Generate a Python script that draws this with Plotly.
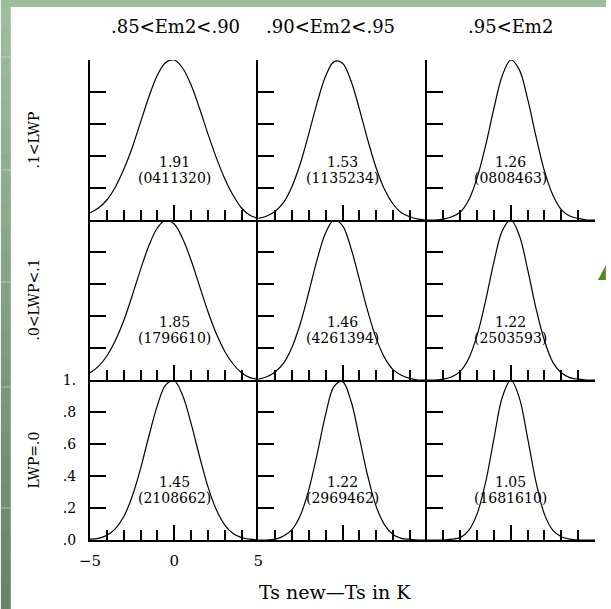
import plotly.graph_objects as go
from plotly.subplots import make_subplots

# Surface emissivity bins (columns) and liquid water path bins (rows, top to bottom)
em2_bins = [".85<Em2<.90", ".90<Em2<.95", ".95<Em2"]
lwp_bins = [".1<LWP", ".0<LWP<.1", "LWP=.0"]

# Sample points of Ts new - Ts (K)
ts_diff = [-5.0, -4.5, -4.0, -3.5, -3.0, -2.5, -2.0, -1.5, -1.0, -0.5, 0.0,
           0.5, 1.0, 1.5, 2.0, 2.5, 3.0, 3.5, 4.0, 4.5, 5.0]

# Normalised frequency per panel, one list per emissivity bin
freq_lwp_high = [
    [0.045, 0.075, 0.125, 0.205, 0.315, 0.45, 0.61, 0.77, 0.905, 0.985, 1.0,
     0.95, 0.845, 0.70, 0.54, 0.39, 0.26, 0.155, 0.075, 0.03, 0.01],
    [0.01, 0.025, 0.055, 0.11, 0.21, 0.355, 0.54, 0.735, 0.90, 0.99, 0.98,
     0.87, 0.695, 0.50, 0.325, 0.19, 0.10, 0.045, 0.02, 0.005, 0.0],
    [0.0, 0.0, 0.005, 0.02, 0.05, 0.125, 0.265, 0.465, 0.70, 0.905, 1.0,
     0.94, 0.755, 0.52, 0.305, 0.155, 0.065, 0.025, 0.01, 0.0, 0.0],
]
freq_lwp_low = [
    [0.045, 0.085, 0.15, 0.245, 0.37, 0.525, 0.69, 0.84, 0.95, 1.0, 0.975,
     0.885, 0.75, 0.59, 0.43, 0.29, 0.18, 0.10, 0.045, 0.015, 0.005],
    [0.005, 0.02, 0.05, 0.105, 0.205, 0.355, 0.55, 0.755, 0.92, 1.0, 0.965,
     0.825, 0.63, 0.43, 0.26, 0.14, 0.065, 0.03, 0.01, 0.0, 0.0],
    [0.0, 0.0, 0.005, 0.02, 0.055, 0.135, 0.28, 0.495, 0.74, 0.935, 1.0,
     0.905, 0.69, 0.445, 0.245, 0.11, 0.045, 0.015, 0.005, 0.0, 0.0],
]
freq_lwp_zero = [
    [0.005, 0.01, 0.03, 0.07, 0.145, 0.27, 0.445, 0.65, 0.84, 0.97, 0.995,
     0.905, 0.73, 0.525, 0.335, 0.19, 0.095, 0.04, 0.015, 0.005, 0.0],
    [0.0, 0.0, 0.005, 0.025, 0.065, 0.155, 0.315, 0.54, 0.785, 0.96, 0.99,
     0.87, 0.64, 0.40, 0.21, 0.095, 0.035, 0.01, 0.005, 0.0, 0.0],
    [0.0, 0.0, 0.0, 0.005, 0.015, 0.06, 0.165, 0.36, 0.635, 0.895, 1.0,
     0.89, 0.635, 0.36, 0.16, 0.06, 0.02, 0.005, 0.0, 0.0, 0.0],
]
freq = [freq_lwp_high, freq_lwp_low, freq_lwp_zero]

# Standard deviation (K) and number of samples printed in each panel
std_dev = [[1.91, 1.53, 1.26], [1.85, 1.46, 1.22], [1.45, 1.22, 1.05]]
counts = [["0411320", "1135234", "0808463"],
          ["1796610", "4261394", "2503593"],
          ["2108662", "2969462", "1681610"]]

# Tick labels
y_ticks = [0, 0.2, 0.4, 0.6, 0.8, 1.0]
y_tick_text = [".0", ".2", ".4", ".6", ".8", "1."]
x_ticks = [-5, 0, 5]
x_tick_text = ["\u22125", "0", "5"]
x_minor = [-4, -3, -2, -1, 1, 2, 3, 4]

W, H = 611, 609
ML, MR, MT, MB = 90, 11, 60, 69
PW, PH = W - ML - MR, H - MT - MB


def px(x):
    return (x - ML) / PW


def py(y):
    return (H - MB - y) / PH


FONT = "DejaVu Serif"

fig = make_subplots(rows=3, cols=3, horizontal_spacing=0, vertical_spacing=0)

for r in range(3):
    for c in range(3):
        fig.add_trace(
            go.Scatter(x=ts_diff, y=freq[r][c], mode="lines",
                       line=dict(color="black", width=1.2, shape="spline"),
                       showlegend=False, hoverinfo="skip"),
            row=r + 1, col=c + 1)

fig.update_xaxes(range=[-5, 5], showline=True, linecolor="black", linewidth=2,
                 ticks="inside", tickvals=x_ticks, ticktext=x_tick_text,
                 ticklen=15, tickwidth=2, tickcolor="black",
                 minor=dict(tickvals=x_minor, ticks="inside", ticklen=10,
                            tickwidth=2, tickcolor="black"),
                 showgrid=False, zeroline=False, showticklabels=False,
                 tickfont=dict(family=FONT, size=15, color="black"),
                 ticklabelstandoff=6)
fig.update_yaxes(range=[0, 1], showline=True, linecolor="black", linewidth=2,
                 ticks="inside", tickvals=y_ticks, ticktext=y_tick_text,
                 ticklen=16, tickwidth=2, tickcolor="black",
                 showgrid=False, zeroline=False, showticklabels=False,
                 tickfont=dict(family=FONT, size=14, color="black"),
                 ticklabelstandoff=9)
fig.update_xaxes(showticklabels=True, row=3, col=1)
fig.update_yaxes(showticklabels=True, row=3, col=1)

annotations = []
# Panel statistics
for r in range(3):
    for c in range(3):
        k = r * 3 + c + 1
        xr = "x" if k == 1 else f"x{k}"
        yr = "y" if k == 1 else f"y{k}"
        annotations.append(dict(x=0, y=0.36, xref=xr, yref=yr,
                                xanchor="center", yanchor="middle",
                                text=f"{std_dev[r][c]:.2f}", showarrow=False,
                                font=dict(family=FONT, size=14, color="black")))
        annotations.append(dict(x=0, y=0.265, xref=xr, yref=yr,
                                xanchor="center", yanchor="middle",
                                text=f"({counts[r][c]})", showarrow=False,
                                font=dict(family=FONT, size=14, color="black")))

# Column headings
for c, (label, cx) in enumerate(zip(em2_bins, [176, 333, 515])):
    annotations.append(dict(x=px(cx), y=py(27), xref="paper", yref="paper",
                            xanchor="center", yanchor="middle",
                            text=label, showarrow=False,
                            font=dict(family=FONT, size=18, color="black")))

# Row headings
for r, label in enumerate(lwp_bins):
    annotations.append(dict(x=px(33), y=py(140 + 160 * r), xref="paper",
                            yref="paper", xanchor="center", yanchor="middle",
                            text=label, showarrow=False, textangle=-90,
                            font=dict(family=FONT, size=14, color="black")))

# Axis title
annotations.append(dict(x=px(337), y=py(592), xref="paper", yref="paper",
                        xanchor="center", yanchor="middle",
                        text="Ts new\u2014Ts in K", showarrow=False,
                        font=dict(family=FONT, size=19, color="black")))

# Slide background: green frame strips with a vertical gradient
shapes = []
top_col = (157, 189, 157)
bot_col = (104, 131, 106)
n_bands = 24
for i in range(n_bands):
    t = i / (n_bands - 1)
    col = tuple(round(a + (b - a) * t) for a, b in zip(top_col, bot_col))
    y0 = i * H / n_bands
    y1 = (i + 1) * H / n_bands + 0.5
    shapes.append(dict(type="rect", xref="paper", yref="paper",
                       x0=px(0), x1=px(10), y0=py(y0), y1=py(y1),
                       line=dict(width=0), fillcolor=f"rgb{col}", layer="below"))
shapes.append(dict(type="rect", xref="paper", yref="paper",
                   x0=px(0), x1=px(W), y0=py(0), y1=py(7),
                   line=dict(width=0), fillcolor="rgb(157,189,157)", layer="below"))
for gy in [57, 170, 282, 387, 508]:
    shapes.append(dict(type="line", xref="paper", yref="paper",
                       x0=px(0), x1=px(10), y0=py(gy), y1=py(gy),
                       line=dict(color="rgba(255,255,255,0.22)", width=2),
                       layer="below"))
shapes.append(dict(type="path", xref="paper", yref="paper",
                   path=(f"M {px(611)},{py(265)} L {px(603)},{py(280)} "
                         f"L {px(611)},{py(280)} Z"),
                   fillcolor="rgb(78,140,34)", line=dict(width=0)))

fig.update_layout(width=W, height=H,
                  margin=dict(l=ML, r=MR, t=MT, b=MB),
                  paper_bgcolor="white", plot_bgcolor="white",
                  annotations=annotations, shapes=shapes,
                  showlegend=False)

fig.write_html("out.html")
